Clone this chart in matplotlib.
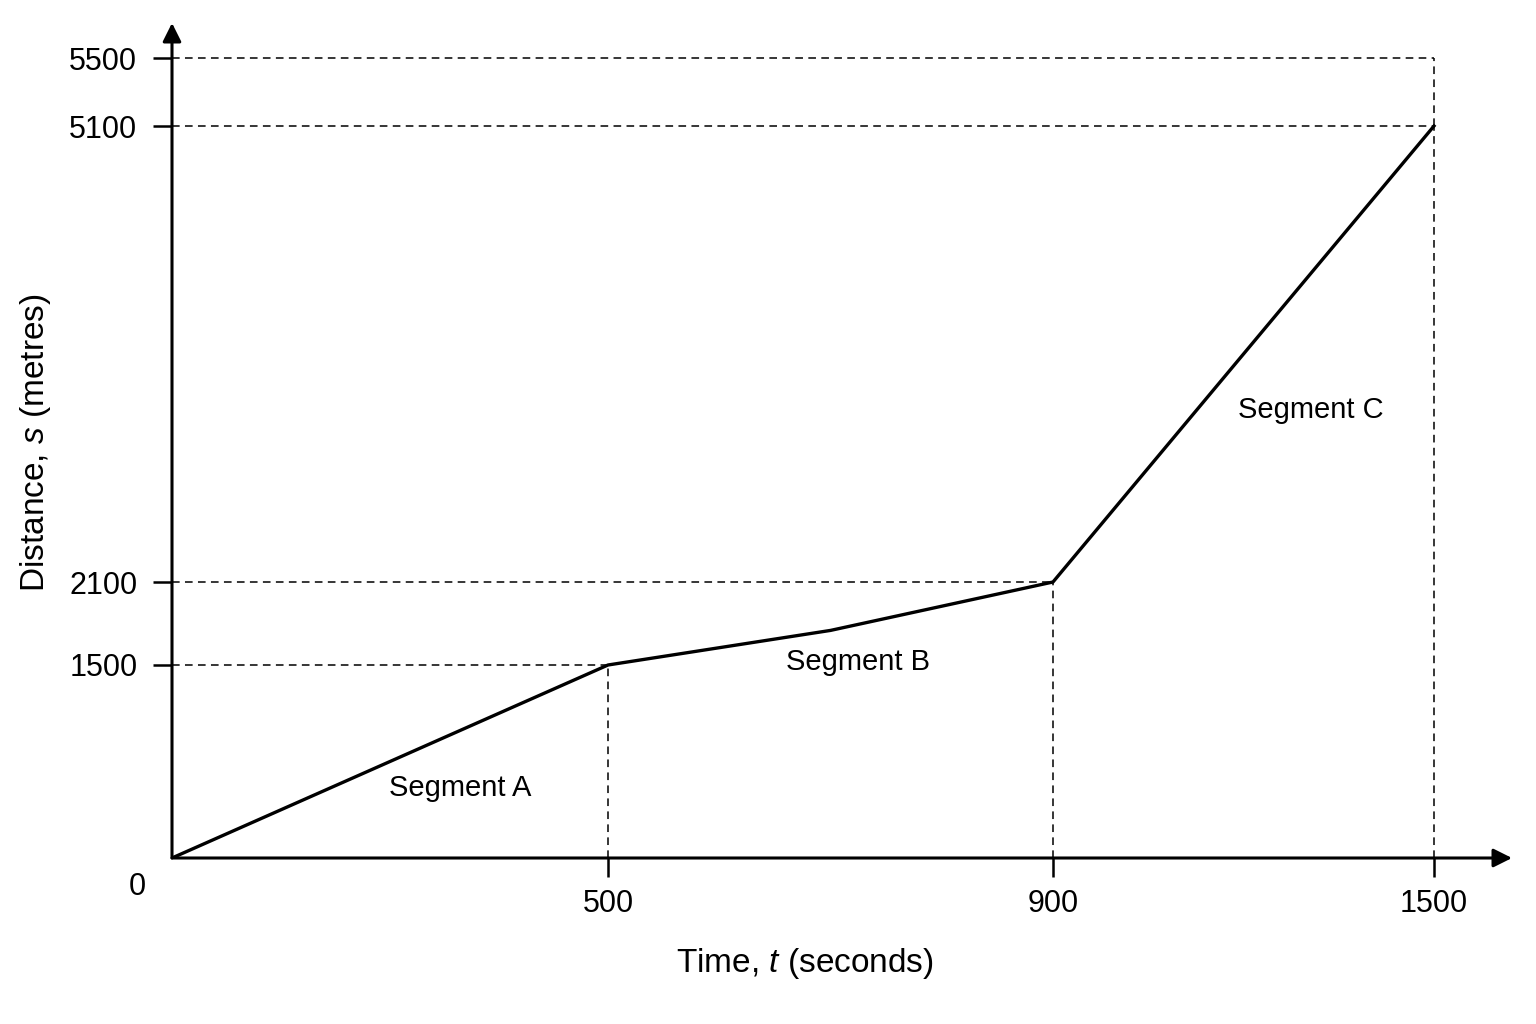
import matplotlib
matplotlib.use("Agg")
import matplotlib.pyplot as plt
import numpy as np

plt.rcParams["font.family"] = ["Liberation Sans", "DejaVu Sans"]
plt.rcParams["mathtext.fontset"] = "custom"
plt.rcParams["mathtext.rm"] = "Liberation Sans"
plt.rcParams["mathtext.it"] = "Liberation Sans:italic"

# --- data ---
time_s = [0, 500, 700, 900, 1500]
distance_m = [0, 1500, 1750, 2100, 5100]
x_ticks = [500, 900, 1500]
y_ticks = [1500, 2100, 5100, 5500]
y_top = 5500
segment_names = ["Segment A", "Segment B", "Segment C"]
segment_label_xy = [(330, 545), (725, 1520), (1306, 3230)]

# the sketch is not drawn to scale: piecewise-linear axis spacing (pixels)
x_nodes, x_pix = [0, 500, 900, 1500], [0, 436, 881, 1262]
y_nodes, y_pix = [0, 1500, 2100, 5100, 5500], [0, 193, 276, 732, 800]


def piecewise(src, dst):
    src = np.asarray(src, float)
    dst = np.asarray(dst, float)
    s_lo = (dst[1] - dst[0]) / (src[1] - src[0])
    s_hi = (dst[-1] - dst[-2]) / (src[-1] - src[-2])

    def f(v):
        v = np.asarray(v, float)
        out = np.interp(v, src, dst)
        out = np.where(v > src[-1], dst[-1] + (v - src[-1]) * s_hi, out)
        out = np.where(v < src[0], dst[0] + (v - src[0]) * s_lo, out)
        return out
    return f


fx, ix = piecewise(x_nodes, x_pix), piecewise(x_pix, x_nodes)
fy, iy = piecewise(y_nodes, y_pix), piecewise(y_pix, y_nodes)

W, H = 1536, 1024
fig = plt.figure(figsize=(W / 100, H / 100), dpi=100)
x0, y0, x1, y1 = 172, 858, 1512, 23
ax = fig.add_axes([x0 / W, (H - y0) / H, (x1 - x0) / W, (y0 - y1) / H])
ax.set_xscale("function", functions=(fx, ix))
ax.set_yscale("function", functions=(fy, iy))
ax.set_xlim(0, float(ix(x1 - x0)))
ax.set_ylim(0, float(iy(y0 - y1)))

# dashed guide lines
dash = dict(color="black", lw=1.1, ls=(0, (5, 3.5)), zorder=1)
for t, s in zip(time_s[1:], distance_m[1:]):
    if t in x_ticks:
        ax.plot([0, t], [s, s], **dash)
        ax.plot([t, t], [0, s], **dash)
ax.plot([0, time_s[-1]], [y_top, y_top], **dash)
ax.plot([time_s[-1], time_s[-1]], [distance_m[-1], y_top], **dash)

ax.plot(time_s, distance_m, color="black", lw=2.4, solid_joinstyle="round", zorder=3)

for name, (tx, ty) in zip(segment_names, segment_label_xy):
    ax.text(tx, ty, name, fontsize=21, ha="center", va="center")

# axes with arrowheads
for sp in ax.spines.values():
    sp.set_visible(False)
arrow = dict(arrowstyle="-|>", lw=2.2, color="black", mutation_scale=28,
             shrinkA=0, shrinkB=0)
ax.annotate("", xy=(1, 0), xytext=(0, 0), xycoords="axes fraction", arrowprops=arrow)
ax.annotate("", xy=(0, 1), xytext=(0, 0), xycoords="axes fraction", arrowprops=arrow)

ax.set_xticks(x_ticks)
ax.set_yticks(y_ticks)
ax.set_xticklabels([str(v) for v in x_ticks])
ax.set_yticklabels([str(v) for v in y_ticks])
ax.minorticks_off()
ax.tick_params(axis="x", length=13.5, width=1.8, pad=8.5, labelsize=22)
ax.tick_params(axis="y", length=13.5, width=1.8, pad=11.5, labelsize=22)
ax.annotate("0", xy=(0, 0), xytext=(-25, -21), textcoords="offset points",
            fontsize=22, ha="center", va="center")

ax.set_xlabel("Time, $t$ (seconds)", fontsize=24)
ax.set_ylabel("Distance, $s$ (metres)", fontsize=24)
ax.xaxis.set_label_coords((805 - x0) / (x1 - x0), (y0 - 946) / (y0 - y1))
ax.yaxis.set_label_coords((53 - x0) / (x1 - x0), (y0 - 443) / (y0 - y1))

fig.savefig("out.png", dpi=100, facecolor="white")
